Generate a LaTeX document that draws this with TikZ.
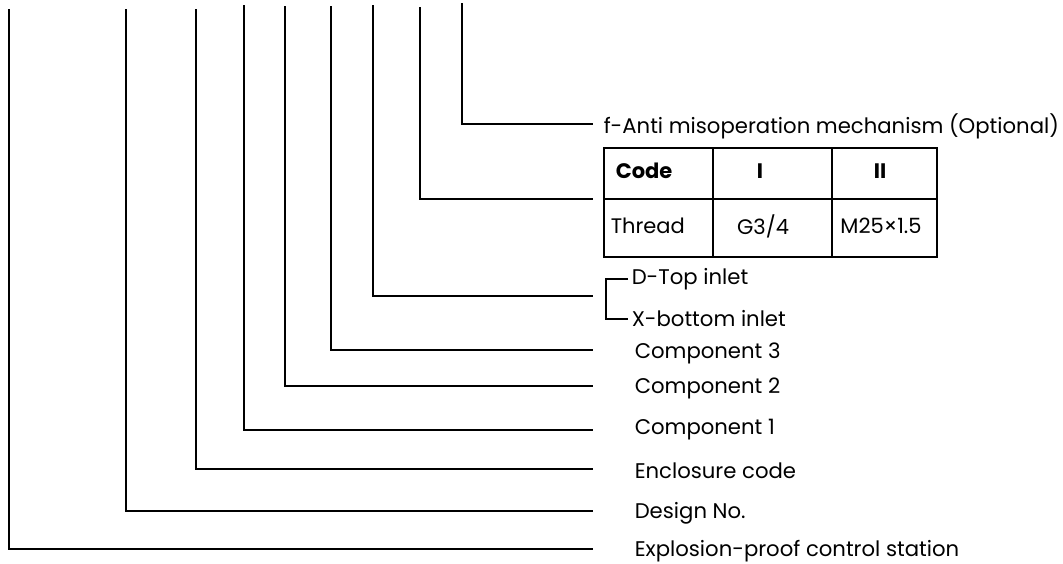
\documentclass[tikz,border=0pt]{standalone}
\usepackage{fontspec}
\setmainfont{Poppins}
\usepackage{tikz}

\begin{document}
\begin{tikzpicture}[x=1pt, y=-1pt, line width=1.5pt,
    lbl/.style={anchor=west, inner sep=0pt, font=\fontsize{21.2}{24}\selectfont},
    cell/.style={inner sep=0pt, font=\fontsize{21}{24}\selectfont}]
  \useasboundingbox (0,0) rectangle (1063,563);
  % tops of the leaders
  \coordinate (t1) at (9,9);   \coordinate (t2) at (126,9);
  \coordinate (t3) at (196,9); \coordinate (t4) at (244,5);
  \coordinate (t5) at (285,6); \coordinate (t6) at (331,6);
  \coordinate (t7) at (373,5); \coordinate (t8) at (420,7);
  \coordinate (t9) at (462,3);
  % free ends on the right
  \coordinate (e1) at (593,549); \coordinate (e2) at (593,511);
  \coordinate (e3) at (593,469); \coordinate (e4) at (593,430);
  \coordinate (e5) at (593,386); \coordinate (e6) at (593,350);
  \coordinate (e7) at (593,296); \coordinate (e8) at (593,199);
  \coordinate (e9) at (593,124);
  \draw (t1) |- (e1);  \draw (t2) |- (e2);  \draw (t3) |- (e3);
  \draw (t4) |- (e4);  \draw (t5) |- (e5);  \draw (t6) |- (e6);
  \draw (t7) |- (e7);  \draw (t8) |- (e8);  \draw (t9) |- (e9);
  % labels
  \node[lbl] (station) at (634,551) {Explosion-proof control station};
  \node[lbl] (design) at (634,513) {Design No.};
  \node[lbl] (encl) at (634,471) {Enclosure code};
  \node[lbl] (comp1) at (634,430) {Component 1};
  \node[lbl] (comp2) at (634,388) {Component 2};
  \node[lbl] (comp3) at (634,353) {Component 3};
  \node[lbl] (top) at (631,279) {D-Top inlet};
  \node[lbl] (bottom) at (631,319) {X-bottom inlet};
  \node[lbl] (anti) at (603,126) {f-Anti misoperation mechanism (Optional)};
  % inlet bracket
  \draw ([xshift=-3pt]top.west) -| (606,297) |- ([xshift=-3pt]bottom.west);
  % thread table
  \draw (604,148) rectangle (937,257);
  \draw (604,199) -- (937,199);
  \draw (713,148) -- (713,257);
  \draw (832,148) -- (832,257);
  \node[cell, anchor=west] (code) at (615,171) {\bfseries Code};
  \node[cell] (one) at (760,171) {\bfseries I};
  \node[cell] (two) at (880,171) {\bfseries II};
  \node[cell, anchor=west] (thread) at (610,226) {Thread};
  \node[cell] (g34) at (763,226) {G3/4};
  \node[cell] (m25) at (881,226) {M25×1.5};
\end{tikzpicture}
\end{document}
